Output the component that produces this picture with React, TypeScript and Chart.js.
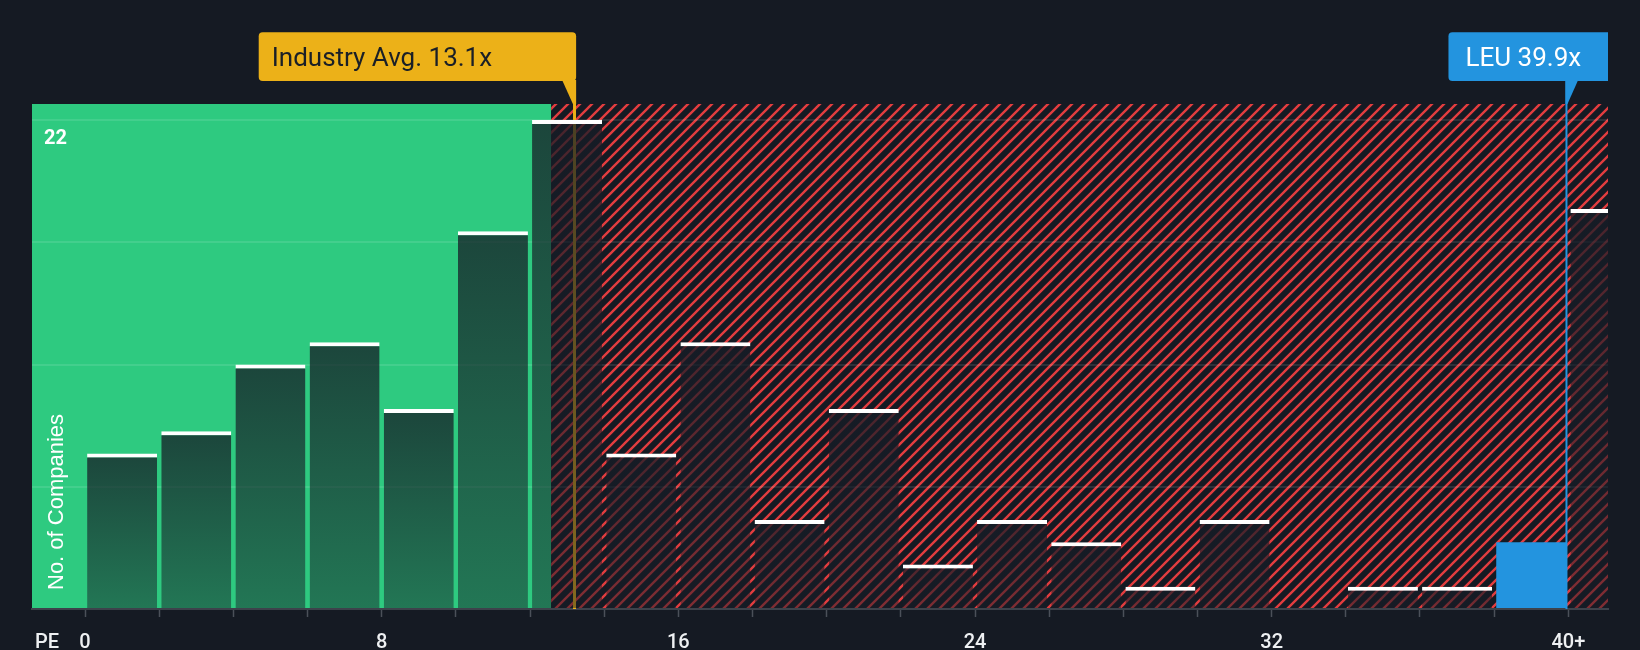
import React, { useEffect, useRef } from 'react';
import { Chart, registerables } from 'chart.js';

Chart.register(...registerables);

// ---- data ----
const binStarts = [0, 2, 4, 6, 8, 10, 12, 14, 16, 18, 20, 22, 24, 26, 28, 30, 32, 34, 36, 38, 40];
const binWidth = 2;
const companyCounts = [7, 8, 11, 12, 9, 17, 22, 7, 12, 4, 9, 2, 4, 3, 1, 4, 0, 1, 1, 3, 18];
const highlightBin = 19; // bin that holds the company (38-40)
const xTickValues = [0, 2, 4, 6, 8, 10, 12, 14, 16, 18, 20, 22, 24, 26, 28, 30, 32, 34, 36, 38, 40];
const xTickLabelValues = [0, 8, 16, 24, 32, 40];
const xTickLabelTexts = ['0', '8', '16', '24', '32', '40+'];
const yGridValues = [0, 5.5, 11, 16.5, 22];
const yLabelValue = 22;
const industryAvg = 13.2; // marker position as drawn
const industryLabel = 'Industry Avg. 13.1x';
const companyPE = 39.95; // marker position as drawn
const companyLabel = 'LEU 39.9x';
const greenZoneEnd = 12.57;
const xMin = -1.43;
const xMax = 41.07;
const yMax = 22.72;

// ---- styles ----
const BG = '#151a23';
const GREEN = '#2ECA80';
const RED = '#e23d3f';
const YELLOW = '#ecb118';
const BLUE = '#2394df';

function makeHatch(ctx: CanvasRenderingContext2D) {
  const p = 12;
  const c = document.createElement('canvas');
  c.width = p;
  c.height = p;
  const g = c.getContext('2d')!;
  g.fillStyle = BG;
  g.fillRect(0, 0, p, p);
  g.strokeStyle = RED;
  g.lineWidth = 2.4;
  g.beginPath();
  for (let k = -1; k <= 1; k++) {
    g.moveTo(k * p - 1, p + 1);
    g.lineTo(k * p + p + 1, -1);
  }
  g.stroke();
  return ctx.createPattern(c, 'repeat')!;
}

const backgroundPlugin = {
  id: 'bgZones',
  beforeDraw(chart: any) {
    const { ctx, chartArea, scales } = chart;
    ctx.save();
    ctx.fillStyle = BG;
    ctx.fillRect(0, 0, chart.width, chart.height);
    const gx = scales.x.getPixelForValue(greenZoneEnd);
    ctx.fillStyle = GREEN;
    ctx.fillRect(chartArea.left, chartArea.top, gx - chartArea.left, chartArea.bottom - chartArea.top);
    ctx.fillStyle = makeHatch(ctx);
    ctx.fillRect(gx, chartArea.top, chartArea.right - gx, chartArea.bottom - chartArea.top);
    ctx.restore();
  },
  beforeDatasetsDraw(chart: any) {
    const { ctx, chartArea, scales } = chart;
    const ix = scales.x.getPixelForValue(industryAvg);
    ctx.save();
    ctx.strokeStyle = YELLOW;
    ctx.lineWidth = 3;
    ctx.beginPath();
    ctx.moveTo(ix, 81);
    ctx.lineTo(ix, chartArea.bottom);
    ctx.stroke();
    ctx.restore();
  },
  afterDatasetsDraw(chart: any) {
    const { ctx, chartArea, scales } = chart;
    ctx.save();
    // company line
    const lx = scales.x.getPixelForValue(companyPE);
    ctx.strokeStyle = BLUE;
    ctx.lineWidth = 2;
    ctx.beginPath();
    ctx.moveTo(lx, 81);
    ctx.lineTo(lx, chartArea.bottom);
    ctx.stroke();

    // industry label box
    const ix = scales.x.getPixelForValue(industryAvg);
    const iRight = ix + 1.6;
    const iLeft = iRight - 317.4;
    ctx.fillStyle = YELLOW;
    ctx.beginPath();
    ctx.roundRect(iLeft, 32.3, iRight - iLeft, 48.7, 4);
    ctx.fill();
    ctx.beginPath();
    ctx.moveTo(ix - 12.4, 80);
    ctx.lineTo(iRight, 80);
    ctx.lineTo(iRight, 104);
    ctx.lineTo(ix - 1.6, 104);
    ctx.closePath();
    ctx.fill();
    ctx.fillStyle = '#1a1f27';
    ctx.font = '400 26px Roboto';
    ctx.textBaseline = 'alphabetic';
    ctx.textAlign = 'left';
    ctx.fillText(industryLabel, iLeft + 13, 65.7);

    // company label box
    const bLeft = lx - 118;
    const bRight = chartArea.right;
    ctx.fillStyle = BLUE;
    ctx.beginPath();
    ctx.roundRect(bLeft, 32.3, bRight - bLeft, 48.7, [4, 0, 0, 4]);
    ctx.fill();
    ctx.beginPath();
    ctx.moveTo(lx - 1, 80);
    ctx.lineTo(lx + 11.7, 80);
    ctx.lineTo(lx + 1, 104);
    ctx.lineTo(lx - 1, 104);
    ctx.closePath();
    ctx.fill();
    ctx.fillStyle = '#ffffff';
    ctx.fillText(companyLabel, bLeft + 17, 65.7);

    // PE label
    ctx.fillStyle = '#eef0f2';
    ctx.font = '500 20px Roboto';
    ctx.fillText('PE', 35, 647.5);

    // y title
    ctx.translate(62.7, 590);
    ctx.rotate(-Math.PI / 2);
    ctx.fillStyle = '#ffffff';
    ctx.font = '22px "Liberation Sans", Arial, sans-serif';
    ctx.fillText('No. of Companies', 0, 0);
    ctx.restore();
  },
};

export default function App() {
  const ref = useRef<HTMLCanvasElement | null>(null);

  useEffect(() => {
    document.body.style.margin = '0';
    document.body.style.background = BG;
    const canvas = ref.current!;
    const chart = new Chart(canvas, {
      type: 'bar',
      data: {
        datasets: [
          {
            data: binStarts.map((s, i) => ({ x: s + binWidth / 2, y: companyCounts[i] })),
            categoryPercentage: 1,
            barPercentage: 0.944,
            clip: 0,
            backgroundColor: (c: any) => {
              const i = c.dataIndex;
              if (i === highlightBin) return BLUE;
              const chartArea = c.chart.chartArea;
              if (!chartArea || i === undefined) return 'rgba(22,28,38,0.7)';
              const ys = c.chart.scales.y;
              const top = ys.getPixelForValue(companyCounts[i]);
              const bottom = ys.getPixelForValue(0);
              if (!(bottom > top)) return 'rgba(22,28,38,0.7)';
              const g = c.chart.ctx.createLinearGradient(0, top, 0, bottom);
              g.addColorStop(0, 'rgba(22,28,38,0.76)');
              g.addColorStop(1, 'rgba(22,28,38,0.48)');
              return g;
            },
            borderColor: '#ffffff',
            borderWidth: (c: any) =>
              c.dataIndex === highlightBin ? 0 : { top: 4, left: 0, right: 0, bottom: 0 },
            borderSkipped: 'start',
          } as any,
        ],
      },
      options: {
        responsive: false,
        animation: false,
        events: [],
        layout: { padding: { top: 104, left: 32, right: 32, bottom: 0 } },
        plugins: { legend: { display: false }, tooltip: { enabled: false } },
        scales: {
          x: {
            type: 'linear',
            offset: false,
            min: xMin,
            max: xMax,
            afterBuildTicks: (s: any) => {
              s.ticks = xTickValues.map((v) => ({ value: v }));
            },
            afterFit: (s: any) => {
              s.height = 41;
            },
            ticks: {
              autoSkip: false,
              maxRotation: 0,
              minRotation: 0,
              color: '#eef0f2',
              padding: 14,
              font: { family: 'Roboto', size: 20, weight: '500' },
              callback: (v: any) => {
                const k = xTickLabelValues.indexOf(Number(v));
                return k >= 0 ? xTickLabelTexts[k] : '';
              },
            },
            grid: {
              offset: false,
              drawOnChartArea: false,
              drawTicks: true,
              tickLength: 8,
              tickColor: '#4b5059',
              tickWidth: 1.5,
            },
            border: { display: true, color: '#3d424b', width: 2 },
          },
          y: {
            type: 'linear',
            min: 0,
            max: yMax,
            position: 'left',
            afterBuildTicks: (s: any) => {
              s.ticks = yGridValues.map((v) => ({ value: v }));
            },
            afterFit: (s: any) => {
              s.width = 0;
            },
            ticks: {
              mirror: true,
              padding: 12,
              labelOffset: 19,
              color: '#ffffff',
              font: { family: 'Roboto', size: 20, weight: 'bold' },
              callback: (v: any) => (Number(v) === yLabelValue ? String(v) : ''),
            },
            grid: { color: 'rgba(255,255,255,0.1)', lineWidth: 2, drawTicks: false },
            border: { display: false },
          },
        },
      } as any,
      plugins: [backgroundPlugin],
    });
    return () => chart.destroy();
  }, []);

  return (
    <div style={{ width: 1640, height: 650, background: BG }}>
      <canvas ref={ref} width={1640} height={650} style={{ display: 'block' }} />
    </div>
  );
}
